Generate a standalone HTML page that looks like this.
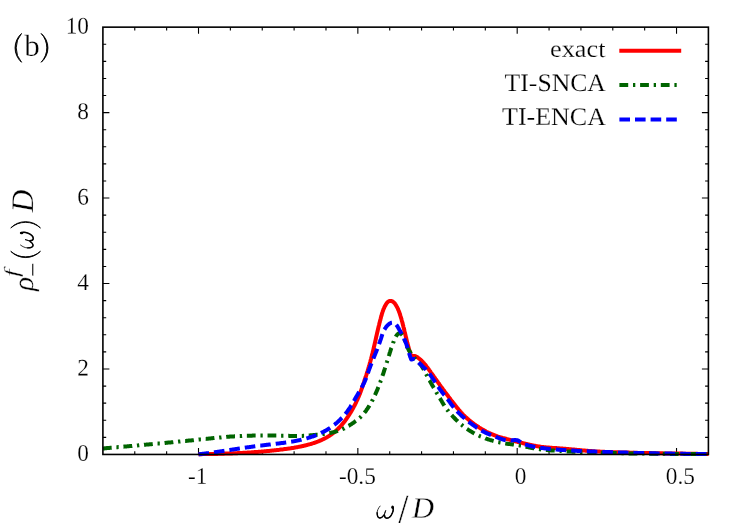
<!DOCTYPE html>
<html><head><meta charset="utf-8"><title>plot</title>
<style>
html,body{margin:0;padding:0;background:#fff;}
svg{display:block;will-change:transform;}
text{font-family:"Liberation Serif",serif;fill:#000;}
</style></head><body>
<svg width="747" height="523" viewBox="0 0 747 523">
<rect width="747" height="523" fill="#fff"/>
<!-- ticks (behind curves) -->
<path d="M134.77,454.45 v-3.3 M134.77,27.15 v3.3 M166.64,454.45 v-3.3 M166.64,27.15 v3.3 M198.51,454.45 v-6.5 M198.51,27.15 v6.5 M230.37,454.45 v-3.3 M230.37,27.15 v3.3 M262.24,454.45 v-3.3 M262.24,27.15 v3.3 M294.11,454.45 v-3.3 M294.11,27.15 v3.3 M325.98,454.45 v-3.3 M325.98,27.15 v3.3 M357.85,454.45 v-6.5 M357.85,27.15 v6.5 M389.72,454.45 v-3.3 M389.72,27.15 v3.3 M421.58,454.45 v-3.3 M421.58,27.15 v3.3 M453.45,454.45 v-3.3 M453.45,27.15 v3.3 M485.32,454.45 v-3.3 M485.32,27.15 v3.3 M517.19,454.45 v-6.5 M517.19,27.15 v6.5 M549.06,454.45 v-3.3 M549.06,27.15 v3.3 M580.93,454.45 v-3.3 M580.93,27.15 v3.3 M612.79,454.45 v-3.3 M612.79,27.15 v3.3 M644.66,454.45 v-3.3 M644.66,27.15 v3.3 M676.53,454.45 v-6.5 M676.53,27.15 v6.5 M102.9,437.36 h3.3 M708.4,437.36 h-3.3 M102.9,420.27 h3.3 M708.4,420.27 h-3.3 M102.9,403.17 h3.3 M708.4,403.17 h-3.3 M102.9,386.08 h3.3 M708.4,386.08 h-3.3 M102.9,368.99 h6.5 M708.4,368.99 h-6.5 M102.9,351.90 h3.3 M708.4,351.90 h-3.3 M102.9,334.81 h3.3 M708.4,334.81 h-3.3 M102.9,317.71 h3.3 M708.4,317.71 h-3.3 M102.9,300.62 h3.3 M708.4,300.62 h-3.3 M102.9,283.53 h6.5 M708.4,283.53 h-6.5 M102.9,266.44 h3.3 M708.4,266.44 h-3.3 M102.9,249.35 h3.3 M708.4,249.35 h-3.3 M102.9,232.25 h3.3 M708.4,232.25 h-3.3 M102.9,215.16 h3.3 M708.4,215.16 h-3.3 M102.9,198.07 h6.5 M708.4,198.07 h-6.5 M102.9,180.98 h3.3 M708.4,180.98 h-3.3 M102.9,163.89 h3.3 M708.4,163.89 h-3.3 M102.9,146.79 h3.3 M708.4,146.79 h-3.3 M102.9,129.70 h3.3 M708.4,129.70 h-3.3 M102.9,112.61 h6.5 M708.4,112.61 h-6.5 M102.9,95.52 h3.3 M708.4,95.52 h-3.3 M102.9,78.43 h3.3 M708.4,78.43 h-3.3 M102.9,61.33 h3.3 M708.4,61.33 h-3.3 M102.9,44.24 h3.3 M708.4,44.24 h-3.3" fill="none" stroke="#000" stroke-width="1.1"/>
<!-- curves -->
<g fill="none" stroke-width="4" stroke-linejoin="round">
<path d="M198.5,454.2 L199.2,454.2 L199.8,454.2 L200.5,454.2 L201.2,454.2 L201.8,454.2 L202.5,454.1 L203.2,454.1 L203.9,454.1 L204.5,454.1 L205.2,454.1 L205.9,454.1 L206.5,454.1 L207.2,454.1 L207.9,454.1 L208.5,454.0 L209.2,454.0 L209.9,454.0 L210.5,454.0 L211.2,454.0 L211.9,454.0 L212.5,454.0 L213.2,454.0 L213.9,453.9 L214.5,453.9 L215.2,453.9 L215.9,453.9 L216.5,453.9 L217.2,453.9 L217.9,453.8 L218.6,453.8 L219.2,453.8 L219.9,453.8 L220.6,453.8 L221.2,453.7 L221.9,453.7 L222.6,453.7 L223.2,453.7 L223.9,453.7 L224.6,453.6 L225.2,453.6 L225.9,453.6 L226.6,453.6 L227.2,453.6 L227.9,453.5 L228.6,453.5 L229.2,453.5 L229.9,453.5 L230.6,453.4 L231.2,453.4 L231.9,453.4 L232.6,453.4 L233.2,453.3 L233.9,453.3 L234.6,453.3 L235.2,453.2 L235.9,453.2 L236.6,453.2 L237.2,453.2 L237.9,453.1 L238.6,453.1 L239.2,453.1 L239.9,453.0 L240.6,453.0 L241.2,453.0 L241.9,452.9 L242.6,452.9 L243.2,452.8 L243.9,452.8 L244.6,452.8 L245.2,452.7 L245.9,452.7 L246.6,452.7 L247.2,452.6 L247.9,452.6 L248.6,452.5 L249.2,452.5 L249.9,452.5 L250.6,452.4 L251.2,452.4 L251.9,452.3 L252.6,452.3 L253.2,452.2 L253.9,452.2 L254.6,452.1 L255.2,452.1 L255.9,452.0 L256.6,452.0 L257.2,451.9 L257.9,451.9 L258.6,451.8 L259.2,451.8 L259.9,451.7 L260.6,451.7 L261.2,451.6 L261.9,451.6 L262.6,451.5 L263.2,451.4 L263.9,451.4 L264.5,451.3 L265.2,451.3 L265.9,451.2 L266.5,451.1 L267.2,451.1 L267.9,451.0 L268.5,450.9 L269.2,450.9 L269.9,450.8 L270.5,450.7 L271.2,450.7 L271.9,450.6 L272.5,450.5 L273.2,450.5 L273.9,450.4 L274.5,450.3 L275.2,450.3 L275.9,450.2 L276.5,450.1 L277.2,450.0 L277.8,450.0 L278.5,449.9 L279.2,449.8 L279.8,449.7 L280.5,449.6 L281.2,449.5 L281.8,449.5 L282.5,449.4 L283.2,449.3 L283.8,449.2 L284.5,449.1 L285.2,449.0 L285.8,448.9 L286.5,448.9 L287.1,448.8 L287.8,448.7 L288.5,448.6 L289.1,448.5 L289.8,448.4 L290.5,448.3 L291.1,448.2 L291.8,448.1 L292.5,448.0 L293.1,447.9 L293.8,447.8 L294.4,447.7 L295.1,447.5 L295.8,447.4 L296.4,447.3 L297.1,447.2 L297.7,447.1 L298.4,446.9 L299.0,446.8 L299.7,446.7 L300.4,446.6 L301.0,446.4 L301.7,446.3 L302.3,446.1 L303.0,446.0 L303.6,445.8 L304.3,445.7 L304.9,445.5 L305.6,445.4 L306.2,445.2 L306.9,445.1 L307.5,444.9 L308.1,444.7 L308.8,444.5 L309.4,444.4 L310.1,444.2 L310.7,444.0 L311.4,443.8 L312.0,443.6 L312.6,443.4 L313.3,443.2 L313.9,443.0 L314.5,442.8 L315.2,442.5 L315.8,442.3 L316.4,442.1 L317.0,441.8 L317.7,441.6 L318.3,441.4 L318.9,441.1 L319.5,440.9 L320.1,440.6 L320.8,440.3 L321.4,440.1 L322.0,439.8 L322.6,439.5 L323.2,439.2 L323.8,438.9 L324.4,438.6 L325.0,438.3 L325.6,438.0 L326.2,437.7 L326.7,437.4 L327.3,437.0 L327.9,436.7 L328.5,436.3 L329.0,436.0 L329.6,435.6 L330.2,435.3 L330.7,434.9 L331.3,434.5 L331.8,434.1 L332.3,433.7 L332.9,433.3 L333.4,432.9 L333.9,432.5 L334.5,432.1 L335.0,431.7 L335.5,431.2 L336.0,430.8 L336.5,430.3 L337.0,429.9 L337.5,429.4 L337.9,429.0 L338.4,428.5 L338.9,428.0 L339.3,427.5 L339.8,427.0 L340.3,426.6 L340.7,426.1 L341.2,425.6 L341.6,425.0 L342.0,424.5 L342.5,424.0 L342.9,423.5 L343.3,423.0 L343.8,422.5 L344.2,421.9 L344.6,421.4 L345.0,420.9 L345.4,420.3 L345.8,419.8 L346.2,419.3 L346.6,418.7 L346.9,418.2 L347.3,417.6 L347.7,417.1 L348.1,416.5 L348.4,416.0 L348.8,415.4 L349.2,414.8 L349.5,414.3 L349.9,413.7 L350.2,413.1 L350.6,412.6 L350.9,412.0 L351.2,411.4 L351.6,410.9 L351.9,410.3 L352.2,409.7 L352.6,409.1 L352.9,408.5 L353.2,407.9 L353.5,407.4 L353.8,406.8 L354.1,406.2 L354.5,405.6 L354.8,405.0 L355.1,404.4 L355.4,403.8 L355.7,403.2 L356.0,402.6 L356.2,402.0 L356.5,401.4 L356.8,400.8 L357.1,400.2 L357.4,399.6 L357.7,399.0 L357.9,398.3 L358.2,397.7 L358.5,397.1 L358.7,396.5 L359.0,395.9 L359.2,395.3 L359.5,394.6 L359.8,394.0 L360.0,393.4 L360.2,392.8 L360.5,392.2 L360.7,391.5 L360.9,390.9 L361.2,390.3 L361.4,389.6 L361.6,389.0 L361.8,388.4 L362.1,387.8 L362.3,387.1 L362.5,386.5 L362.7,385.9 L362.9,385.2 L363.1,384.6 L363.4,384.0 L363.6,383.3 L363.8,382.7 L364.0,382.1 L364.2,381.4 L364.4,380.8 L364.6,380.2 L364.8,379.5 L365.0,378.9 L365.2,378.3 L365.5,377.6 L365.7,377.0 L365.9,376.4 L366.1,375.7 L366.3,375.1 L366.5,374.4 L366.7,373.8 L366.9,373.2 L367.1,372.5 L367.3,371.9 L367.5,371.3 L367.7,370.6 L367.9,370.0 L368.1,369.3 L368.3,368.7 L368.5,368.1 L368.6,367.4 L368.8,366.8 L369.0,366.1 L369.2,365.5 L369.4,364.9 L369.6,364.2 L369.8,363.6 L369.9,362.9 L370.1,362.3 L370.3,361.6 L370.5,361.0 L370.6,360.4 L370.8,359.7 L371.0,359.1 L371.2,358.4 L371.3,357.8 L371.5,357.1 L371.7,356.5 L371.8,355.8 L372.0,355.2 L372.2,354.5 L372.3,353.9 L372.5,353.2 L372.6,352.6 L372.8,351.9 L373.0,351.3 L373.1,350.6 L373.3,350.0 L373.4,349.3 L373.6,348.7 L373.7,348.0 L373.9,347.4 L374.0,346.7 L374.2,346.1 L374.3,345.4 L374.5,344.8 L374.6,344.1 L374.8,343.5 L374.9,342.8 L375.1,342.2 L375.2,341.5 L375.4,340.9 L375.5,340.2 L375.7,339.6 L375.8,338.9 L375.9,338.3 L376.1,337.6 L376.2,336.9 L376.4,336.3 L376.5,335.6 L376.7,335.0 L376.8,334.3 L377.0,333.7 L377.1,333.0 L377.3,332.4 L377.4,331.7 L377.6,331.1 L377.7,330.4 L377.9,329.8 L378.0,329.1 L378.2,328.5 L378.3,327.8 L378.5,327.2 L378.6,326.5 L378.8,325.9 L379.0,325.2 L379.1,324.6 L379.3,323.9 L379.4,323.3 L379.6,322.6 L379.8,322.0 L379.9,321.3 L380.1,320.7 L380.3,320.1 L380.4,319.4 L380.6,318.8 L380.8,318.1 L380.9,317.5 L381.1,316.8 L381.3,316.2 L381.5,315.5 L381.7,314.9 L381.8,314.3 L382.0,313.6 L382.2,313.0 L382.4,312.4 L382.6,311.7 L382.8,311.1 L383.1,310.5 L383.3,309.8 L383.5,309.2 L383.8,308.6 L384.1,308.0 L384.3,307.4 L384.6,306.8 L384.9,306.2 L385.3,305.6 L385.6,305.0 L386.0,304.4 L386.3,303.8 L386.7,303.2 L387.2,302.7 L387.6,302.2 L388.1,301.7 L388.6,301.4 L389.1,301.1 L389.7,300.9 L390.4,300.9 L391.0,300.9 L391.7,301.1 L392.4,301.4 L393.0,301.7 L393.5,302.2 L394.0,302.6 L394.5,303.1 L394.9,303.6 L395.3,304.2 L395.7,304.7 L396.0,305.3 L396.4,305.9 L396.7,306.5 L397.0,307.0 L397.3,307.6 L397.6,308.2 L397.9,308.8 L398.1,309.4 L398.4,310.1 L398.7,310.7 L398.9,311.3 L399.1,311.9 L399.4,312.6 L399.6,313.2 L399.8,313.8 L400.0,314.5 L400.2,315.1 L400.4,315.7 L400.6,316.4 L400.8,317.0 L401.0,317.7 L401.2,318.3 L401.4,318.9 L401.6,319.6 L401.7,320.2 L401.9,320.9 L402.1,321.5 L402.3,322.2 L402.4,322.8 L402.6,323.5 L402.8,324.1 L402.9,324.8 L403.1,325.4 L403.3,326.1 L403.4,326.7 L403.6,327.4 L403.8,328.0 L403.9,328.6 L404.1,329.3 L404.2,329.9 L404.4,330.6 L404.5,331.2 L404.7,331.9 L404.9,332.5 L405.0,333.2 L405.2,333.8 L405.3,334.5 L405.5,335.1 L405.6,335.8 L405.8,336.4 L405.9,337.1 L406.1,337.7 L406.3,338.4 L406.4,339.0 L406.6,339.7 L406.7,340.3 L406.9,341.0 L407.0,341.6 L407.2,342.3 L407.4,342.9 L407.5,343.6 L407.7,344.2 L407.9,344.9 L408.0,345.5 L408.2,346.2 L408.4,346.8 L408.6,347.4 L408.7,348.1 L408.9,348.7 L409.1,349.4 L409.3,350.0 L409.5,350.7 L409.7,351.3 L409.9,351.9 L410.1,352.6 L410.3,353.2 L410.5,353.9 L410.7,354.5 L410.9,355.1 L411.1,355.8 L411.3,356.4 L412.0,356.2 L412.6,356.0 L413.3,355.9 L413.9,355.9 L414.6,356.0 L415.2,356.2 L415.8,356.4 L416.4,356.7 L417.0,357.1 L417.6,357.4 L418.1,357.8 L418.7,358.2 L419.2,358.6 L419.7,359.1 L420.3,359.5 L420.8,359.9 L421.2,360.4 L421.7,360.9 L422.2,361.3 L422.7,361.8 L423.1,362.3 L423.6,362.8 L424.0,363.3 L424.4,363.8 L424.9,364.3 L425.3,364.8 L425.7,365.3 L426.1,365.8 L426.5,366.4 L426.9,366.9 L427.3,367.4 L427.7,368.0 L428.1,368.5 L428.5,369.1 L428.9,369.6 L429.3,370.2 L429.7,370.7 L430.1,371.2 L430.5,371.8 L430.8,372.3 L431.2,372.9 L431.6,373.4 L432.0,374.0 L432.4,374.5 L432.8,375.1 L433.2,375.6 L433.6,376.2 L433.9,376.7 L434.3,377.2 L434.7,377.8 L435.1,378.3 L435.5,378.9 L435.9,379.4 L436.3,380.0 L436.7,380.5 L437.0,381.1 L437.4,381.6 L437.8,382.1 L438.2,382.7 L438.6,383.2 L439.0,383.8 L439.4,384.3 L439.8,384.9 L440.2,385.4 L440.6,385.9 L440.9,386.5 L441.3,387.0 L441.7,387.6 L442.1,388.1 L442.5,388.6 L442.9,389.2 L443.3,389.7 L443.7,390.3 L444.1,390.8 L444.5,391.3 L444.9,391.9 L445.3,392.4 L445.7,392.9 L446.1,393.5 L446.5,394.0 L446.9,394.5 L447.3,395.1 L447.7,395.6 L448.1,396.1 L448.5,396.7 L448.9,397.2 L449.3,397.7 L449.7,398.3 L450.1,398.8 L450.5,399.3 L450.9,399.9 L451.3,400.4 L451.7,400.9 L452.1,401.5 L452.6,402.0 L453.0,402.5 L453.4,403.0 L453.8,403.6 L454.2,404.1 L454.6,404.6 L455.0,405.1 L455.4,405.7 L455.9,406.2 L456.3,406.7 L456.7,407.2 L457.1,407.8 L457.6,408.3 L458.0,408.8 L458.4,409.3 L458.8,409.8 L459.3,410.3 L459.7,410.8 L460.1,411.3 L460.6,411.8 L461.0,412.3 L461.5,412.8 L461.9,413.3 L462.4,413.8 L462.8,414.3 L463.3,414.8 L463.8,415.3 L464.2,415.7 L464.7,416.2 L465.2,416.7 L465.7,417.1 L466.2,417.6 L466.7,418.0 L467.2,418.5 L467.7,418.9 L468.2,419.4 L468.7,419.8 L469.2,420.2 L469.7,420.6 L470.2,421.1 L470.7,421.5 L471.3,421.9 L471.8,422.3 L472.3,422.7 L472.9,423.1 L473.4,423.5 L473.9,423.9 L474.5,424.3 L475.0,424.7 L475.6,425.1 L476.1,425.5 L476.7,425.8 L477.2,426.2 L477.8,426.6 L478.4,426.9 L478.9,427.3 L479.5,427.7 L480.1,428.0 L480.6,428.4 L481.2,428.7 L481.8,429.1 L482.3,429.4 L482.9,429.7 L483.5,430.1 L484.1,430.4 L484.7,430.7 L485.3,431.0 L485.9,431.4 L486.4,431.7 L487.0,432.0 L487.6,432.3 L488.2,432.6 L488.8,432.9 L489.4,433.1 L490.0,433.4 L490.7,433.7 L491.3,434.0 L491.9,434.2 L492.5,434.5 L493.1,434.7 L493.7,435.0 L494.4,435.2 L495.0,435.5 L495.6,435.7 L496.2,435.9 L496.9,436.1 L497.5,436.4 L498.1,436.6 L498.8,436.8 L499.4,437.0 L500.0,437.1 L500.7,437.3 L501.3,437.5 L502.0,437.7 L502.6,437.9 L503.3,438.1 L503.9,438.2 L504.6,438.4 L505.2,438.6 L505.9,438.7 L506.5,438.9 L507.1,439.1 L507.8,439.3 L508.4,439.4 L509.1,439.6 L509.7,439.8 L510.4,439.9 L511.0,440.1 L511.7,440.3 L512.3,440.4 L513.0,440.6 L513.6,440.8 L514.3,440.9 L514.9,441.1 L515.6,441.3 L516.2,441.5 L516.9,441.6 L517.5,441.8 L518.1,442.0 L518.8,442.1 L519.4,442.3 L520.1,442.5 L520.7,442.6 L521.4,442.8 L522.0,442.9 L522.7,443.1 L523.3,443.3 L524.0,443.4 L524.6,443.6 L525.3,443.7 L525.9,443.9 L526.6,444.0 L527.2,444.2 L527.9,444.3 L528.5,444.5 L529.2,444.6 L529.8,444.8 L530.5,444.9 L531.1,445.1 L531.8,445.2 L532.4,445.3 L533.1,445.5 L533.8,445.6 L534.4,445.7 L535.1,445.8 L535.7,445.9 L536.4,446.1 L537.0,446.2 L537.7,446.3 L538.4,446.4 L539.0,446.5 L539.7,446.6 L540.4,446.7 L541.0,446.8 L541.7,446.9 L542.3,447.0 L543.0,447.0 L543.7,447.1 L544.3,447.2 L545.0,447.3 L545.7,447.3 L546.3,447.4 L547.0,447.5 L547.7,447.5 L548.3,447.6 L549.0,447.6 L549.7,447.7 L550.3,447.7 L551.0,447.8 L551.7,447.8 L552.3,447.9 L553.0,447.9 L553.7,448.0 L554.3,448.0 L555.0,448.1 L555.7,448.1 L556.3,448.1 L557.0,448.2 L557.7,448.2 L558.3,448.3 L559.0,448.3 L559.7,448.4 L560.3,448.4 L561.0,448.5 L561.7,448.5 L562.3,448.6 L563.0,448.6 L563.6,448.7 L564.3,448.7 L565.0,448.8 L565.6,448.8 L566.3,448.9 L567.0,448.9 L567.6,449.0 L568.3,449.1 L569.0,449.1 L569.6,449.2 L570.3,449.3 L571.0,449.3 L571.6,449.4 L572.3,449.4 L573.0,449.5 L573.6,449.6 L574.3,449.6 L575.0,449.7 L575.6,449.8 L576.3,449.8 L577.0,449.9 L577.6,450.0 L578.3,450.0 L579.0,450.1 L579.6,450.1 L580.3,450.2 L580.9,450.3 L581.6,450.3 L582.3,450.4 L582.9,450.5 L583.6,450.5 L584.3,450.6 L584.9,450.6 L585.6,450.7 L586.3,450.7 L586.9,450.8 L587.6,450.8 L588.3,450.9 L588.9,451.0 L589.6,451.0 L590.3,451.0 L590.9,451.1 L591.6,451.1 L592.3,451.2 L592.9,451.2 L593.6,451.3 L594.3,451.3 L594.9,451.4 L595.6,451.4 L596.3,451.4 L596.9,451.5 L597.6,451.5 L598.3,451.6 L598.9,451.6 L599.6,451.6 L600.3,451.7 L600.9,451.7 L601.6,451.7 L602.3,451.8 L602.9,451.8 L603.6,451.8 L604.3,451.8 L605.0,451.9 L605.6,451.9 L606.3,451.9 L607.0,452.0 L607.6,452.0 L608.3,452.0 L609.0,452.0 L609.6,452.1 L610.3,452.1 L611.0,452.1 L611.6,452.1 L612.3,452.2 L613.0,452.2 L613.6,452.2 L614.3,452.2 L615.0,452.2 L615.6,452.3 L616.3,452.3 L617.0,452.3 L617.6,452.3 L618.3,452.4 L619.0,452.4 L619.6,452.4 L620.3,452.4 L621.0,452.4 L621.6,452.4 L622.3,452.5 L623.0,452.5 L623.7,452.5 L624.3,452.5 L625.0,452.5 L625.7,452.6 L626.3,452.6 L627.0,452.6 L627.7,452.6 L628.3,452.6 L629.0,452.6 L629.7,452.7 L630.3,452.7 L631.0,452.7 L631.7,452.7 L632.3,452.7 L633.0,452.7 L633.7,452.8 L634.3,452.8 L635.0,452.8 L635.7,452.8 L636.3,452.8 L637.0,452.8 L637.7,452.9 L638.3,452.9 L639.0,452.9 L639.7,452.9 L640.4,452.9 L641.0,452.9 L641.7,452.9 L642.4,453.0 L643.0,453.0 L643.7,453.0 L644.4,453.0 L645.0,453.0 L645.7,453.0 L646.4,453.0 L647.0,453.1 L647.7,453.1 L648.4,453.1 L649.0,453.1 L649.7,453.1 L650.4,453.1 L651.0,453.1 L651.7,453.2 L652.4,453.2 L653.0,453.2 L653.7,453.2 L654.4,453.2 L655.1,453.2 L655.7,453.2 L656.4,453.2 L657.1,453.2 L657.7,453.3 L658.4,453.3 L659.1,453.3 L659.7,453.3 L660.4,453.3 L661.1,453.3 L661.7,453.3 L662.4,453.3 L663.1,453.4 L663.7,453.4 L664.4,453.4 L665.1,453.4 L665.7,453.4 L666.4,453.4 L667.1,453.4 L667.7,453.4 L668.4,453.4 L669.1,453.4 L669.7,453.5 L670.4,453.5 L671.1,453.5 L671.8,453.5 L672.4,453.5 L673.1,453.5 L673.8,453.5 L674.4,453.5 L675.1,453.5 L675.8,453.5 L676.4,453.6 L677.1,453.6 L677.8,453.6 L678.4,453.6 L679.1,453.6 L679.8,453.6 L680.4,453.6 L681.1,453.6 L681.8,453.6 L682.4,453.6 L683.1,453.7 L683.8,453.7 L684.4,453.7 L685.1,453.7 L685.8,453.7 L686.4,453.7 L687.1,453.7 L687.8,453.7 L688.5,453.7 L689.1,453.7 L689.8,453.7 L690.5,453.8 L691.1,453.8 L691.8,453.8 L692.5,453.8 L693.1,453.8 L693.8,453.8 L694.5,453.8 L695.1,453.8 L695.8,453.8 L696.5,453.8 L697.1,453.8 L697.8,453.9 L698.5,453.9 L699.1,453.9 L699.8,453.9 L700.5,453.9 L701.1,453.9 L701.8,453.9 L702.5,453.9 L703.2,453.9 L703.8,453.9 L704.5,453.9 L705.2,454.0 L705.8,454.0 L706.5,454.0 L707.2,454.0 L707.8,454.0 L708.5,454.0" stroke="#ff0000"/>
<path d="M102.9,448.5 L103.6,448.4 L104.2,448.4 L104.9,448.3 L105.6,448.3 L106.2,448.2 L106.9,448.1 L107.6,448.1 L108.2,448.0 L108.9,448.0 L109.6,447.9 L110.2,447.8 L110.9,447.8 L111.6,447.7 L112.2,447.7 L112.9,447.6 L113.5,447.5 L114.2,447.5 L114.9,447.4 L115.5,447.4 L116.2,447.3 L116.9,447.3 L117.5,447.2 L118.2,447.1 L118.9,447.1 L119.5,447.0 L120.2,447.0 L120.9,446.9 L121.5,446.8 L122.2,446.8 L122.9,446.7 L123.5,446.7 L124.2,446.6 L124.9,446.5 L125.5,446.5 L126.2,446.4 L126.9,446.4 L127.5,446.3 L128.2,446.2 L128.9,446.2 L129.5,446.1 L130.2,446.1 L130.8,446.0 L131.5,446.0 L132.2,445.9 L132.8,445.8 L133.5,445.8 L134.2,445.7 L134.8,445.7 L135.5,445.6 L136.2,445.5 L136.8,445.5 L137.5,445.4 L138.2,445.4 L138.8,445.3 L139.5,445.2 L140.2,445.2 L140.8,445.1 L141.5,445.1 L142.2,445.0 L142.8,444.9 L143.5,444.9 L144.1,444.8 L144.8,444.8 L145.5,444.7 L146.1,444.6 L146.8,444.6 L147.5,444.5 L148.1,444.5 L148.8,444.4 L149.5,444.3 L150.1,444.3 L150.8,444.2 L151.5,444.2 L152.1,444.1 L152.8,444.0 L153.5,444.0 L154.1,443.9 L154.8,443.9 L155.4,443.8 L156.1,443.7 L156.8,443.7 L157.4,443.6 L158.1,443.6 L158.8,443.5 L159.4,443.4 L160.1,443.4 L160.8,443.3 L161.4,443.3 L162.1,443.2 L162.8,443.1 L163.4,443.1 L164.1,443.0 L164.8,442.9 L165.4,442.9 L166.1,442.8 L166.7,442.8 L167.4,442.7 L168.1,442.6 L168.7,442.6 L169.4,442.5 L170.1,442.5 L170.7,442.4 L171.4,442.3 L172.1,442.3 L172.7,442.2 L173.4,442.1 L174.1,442.1 L174.7,442.0 L175.4,441.9 L176.1,441.9 L176.7,441.8 L177.4,441.8 L178.0,441.7 L178.7,441.6 L179.4,441.6 L180.0,441.5 L180.7,441.4 L181.4,441.4 L182.0,441.3 L182.7,441.2 L183.4,441.2 L184.0,441.1 L184.7,441.0 L185.4,441.0 L186.0,440.9 L186.7,440.8 L187.4,440.8 L188.0,440.7 L188.7,440.6 L189.3,440.6 L190.0,440.5 L190.7,440.4 L191.3,440.4 L192.0,440.3 L192.7,440.2 L193.3,440.2 L194.0,440.1 L194.7,440.0 L195.3,440.0 L196.0,439.9 L196.7,439.8 L197.3,439.8 L198.0,439.7 L198.7,439.6 L199.3,439.6 L200.0,439.5 L200.6,439.4 L201.3,439.4 L202.0,439.3 L202.6,439.2 L203.3,439.2 L204.0,439.1 L204.6,439.0 L205.3,438.9 L206.0,438.9 L206.6,438.8 L207.3,438.7 L208.0,438.7 L208.6,438.6 L209.3,438.5 L210.0,438.5 L210.6,438.4 L211.3,438.3 L211.9,438.3 L212.6,438.2 L213.3,438.1 L213.9,438.1 L214.6,438.0 L215.3,437.9 L215.9,437.9 L216.6,437.8 L217.3,437.7 L217.9,437.7 L218.6,437.6 L219.3,437.5 L219.9,437.5 L220.6,437.4 L221.3,437.4 L221.9,437.3 L222.6,437.2 L223.3,437.2 L223.9,437.1 L224.6,437.1 L225.3,437.0 L225.9,437.0 L226.6,436.9 L227.2,436.8 L227.9,436.8 L228.6,436.7 L229.2,436.7 L229.9,436.6 L230.6,436.6 L231.2,436.6 L231.9,436.5 L232.6,436.5 L233.2,436.4 L233.9,436.4 L234.6,436.3 L235.2,436.3 L235.9,436.3 L236.6,436.2 L237.2,436.2 L237.9,436.2 L238.6,436.1 L239.2,436.1 L239.9,436.1 L240.6,436.0 L241.2,436.0 L241.9,436.0 L242.6,435.9 L243.2,435.9 L243.9,435.9 L244.6,435.9 L245.2,435.8 L245.9,435.8 L246.6,435.8 L247.2,435.8 L247.9,435.8 L248.6,435.7 L249.2,435.7 L249.9,435.7 L250.6,435.7 L251.2,435.7 L251.9,435.7 L252.6,435.6 L253.2,435.6 L253.9,435.6 L254.6,435.6 L255.3,435.6 L255.9,435.6 L256.6,435.6 L257.3,435.6 L257.9,435.6 L258.6,435.6 L259.3,435.5 L259.9,435.5 L260.6,435.5 L261.3,435.5 L261.9,435.5 L262.6,435.5 L263.3,435.5 L263.9,435.5 L264.6,435.5 L265.3,435.5 L265.9,435.5 L266.6,435.5 L267.3,435.5 L267.9,435.5 L268.6,435.5 L269.3,435.5 L269.9,435.5 L270.6,435.5 L271.3,435.5 L271.9,435.6 L272.6,435.6 L273.3,435.6 L274.0,435.6 L274.6,435.6 L275.3,435.6 L276.0,435.6 L276.6,435.6 L277.3,435.6 L278.0,435.6 L278.6,435.6 L279.3,435.7 L280.0,435.7 L280.6,435.7 L281.3,435.7 L282.0,435.7 L282.6,435.7 L283.3,435.7 L284.0,435.7 L284.6,435.8 L285.3,435.8 L286.0,435.8 L286.7,435.8 L287.3,435.8 L288.0,435.8 L288.7,435.8 L289.3,435.9 L290.0,435.9 L290.7,435.9 L291.3,435.9 L292.0,435.9 L292.7,435.9 L293.3,435.9 L294.0,435.9 L294.7,436.0 L295.3,436.0 L296.0,436.0 L296.7,436.0 L297.3,436.0 L298.0,436.0 L298.7,436.0 L299.3,435.9 L300.0,435.9 L300.7,435.9 L301.3,435.9 L302.0,435.9 L302.7,435.9 L303.3,435.8 L304.0,435.8 L304.7,435.8 L305.3,435.7 L306.0,435.7 L306.7,435.6 L307.3,435.6 L308.0,435.6 L308.6,435.5 L309.3,435.4 L310.0,435.4 L310.6,435.3 L311.3,435.3 L312.0,435.2 L312.6,435.2 L313.3,435.1 L314.0,435.0 L314.6,435.0 L315.3,434.9 L316.0,434.8 L316.6,434.8 L317.3,434.7 L318.0,434.7 L318.6,434.6 L319.3,434.5 L320.0,434.4 L320.6,434.4 L321.3,434.3 L322.0,434.2 L322.6,434.1 L323.3,434.0 L324.0,434.0 L324.6,433.9 L325.3,433.8 L326.0,433.7 L326.6,433.6 L327.3,433.5 L328.0,433.3 L328.6,433.2 L329.3,433.1 L329.9,433.0 L330.6,432.9 L331.2,432.7 L331.9,432.6 L332.5,432.4 L333.2,432.3 L333.8,432.1 L334.5,431.9 L335.1,431.8 L335.7,431.6 L336.4,431.4 L337.0,431.2 L337.7,431.0 L338.3,430.8 L338.9,430.6 L339.5,430.4 L340.2,430.1 L340.8,429.9 L341.4,429.6 L342.0,429.4 L342.6,429.1 L343.2,428.8 L343.8,428.5 L344.4,428.3 L345.0,427.9 L345.6,427.6 L346.2,427.3 L346.8,427.0 L347.4,426.6 L347.9,426.3 L348.5,425.9 L349.1,425.6 L349.7,425.2 L350.2,424.8 L350.8,424.5 L351.4,424.1 L351.9,423.7 L352.5,423.3 L353.0,423.0 L353.6,422.6 L354.1,422.2 L354.7,421.8 L355.2,421.4 L355.7,421.0 L356.3,420.6 L356.8,420.2 L357.3,419.8 L357.8,419.4 L358.4,419.0 L358.9,418.6 L359.4,418.1 L359.9,417.7 L360.3,417.2 L360.8,416.8 L361.3,416.3 L361.8,415.8 L362.2,415.3 L362.7,414.9 L363.1,414.4 L363.6,413.9 L364.0,413.3 L364.4,412.8 L364.8,412.3 L365.2,411.8 L365.7,411.2 L366.1,410.7 L366.4,410.1 L366.8,409.6 L367.2,409.0 L367.6,408.5 L368.0,407.9 L368.3,407.3 L368.7,406.8 L369.1,406.2 L369.4,405.6 L369.7,405.1 L370.1,404.5 L370.4,403.9 L370.8,403.3 L371.1,402.8 L371.4,402.2 L371.7,401.6 L372.0,401.0 L372.4,400.4 L372.7,399.8 L373.0,399.2 L373.3,398.6 L373.6,398.0 L373.9,397.4 L374.1,396.8 L374.4,396.2 L374.7,395.6 L375.0,395.0 L375.3,394.4 L375.5,393.8 L375.8,393.2 L376.1,392.6 L376.3,392.0 L376.6,391.4 L376.9,390.8 L377.1,390.1 L377.4,389.5 L377.6,388.9 L377.9,388.3 L378.1,387.7 L378.4,387.0 L378.6,386.4 L378.9,385.8 L379.1,385.2 L379.3,384.6 L379.6,383.9 L379.8,383.3 L380.1,382.7 L380.3,382.1 L380.5,381.4 L380.7,380.8 L381.0,380.2 L381.2,379.5 L381.4,378.9 L381.6,378.3 L381.9,377.7 L382.1,377.0 L382.3,376.4 L382.5,375.8 L382.7,375.1 L382.9,374.5 L383.2,373.9 L383.4,373.2 L383.6,372.6 L383.8,372.0 L384.0,371.3 L384.2,370.7 L384.4,370.0 L384.6,369.4 L384.8,368.8 L385.0,368.1 L385.2,367.5 L385.4,366.9 L385.6,366.2 L385.8,365.6 L386.0,364.9 L386.2,364.3 L386.4,363.7 L386.6,363.0 L386.8,362.4 L387.0,361.8 L387.2,361.1 L387.4,360.5 L387.6,359.8 L387.8,359.2 L388.0,358.6 L388.2,357.9 L388.4,357.3 L388.6,356.7 L388.8,356.0 L389.0,355.4 L389.2,354.7 L389.4,354.1 L389.6,353.5 L389.8,352.8 L390.0,352.2 L390.2,351.6 L390.4,350.9 L390.6,350.3 L390.8,349.7 L391.0,349.0 L391.2,348.4 L391.5,347.8 L391.7,347.1 L391.9,346.5 L392.1,345.9 L392.3,345.2 L392.5,344.6 L392.8,344.0 L393.0,343.4 L393.2,342.7 L393.4,342.1 L393.7,341.5 L393.9,340.9 L394.1,340.2 L394.4,339.6 L394.6,339.0 L394.9,338.4 L395.2,337.8 L395.5,337.2 L395.8,336.6 L396.2,336.0 L396.6,335.4 L397.0,334.8 L397.5,334.3 L398.0,333.8 L398.6,333.5 L399.1,333.3 L399.7,333.3 L400.3,333.5 L400.9,333.8 L401.5,334.2 L402.0,334.7 L402.5,335.3 L402.9,335.8 L403.2,336.4 L403.5,337.0 L403.8,337.6 L404.1,338.2 L404.3,338.9 L404.5,339.5 L404.7,340.2 L404.9,340.8 L405.1,341.5 L405.4,342.1 L405.6,342.7 L405.8,343.4 L406.0,344.0 L406.3,344.6 L406.5,345.3 L406.8,345.9 L407.0,346.5 L407.3,347.1 L407.6,347.7 L407.9,348.3 L408.2,348.9 L408.5,349.5 L408.8,350.1 L409.1,350.6 L409.5,351.2 L409.8,351.8 L410.2,352.3 L410.6,352.9 L410.9,353.4 L411.3,354.0 L411.7,354.5 L412.1,355.1 L412.5,355.6 L412.9,356.1 L413.4,356.6 L413.8,357.1 L414.2,357.6 L414.7,358.2 L415.1,358.6 L415.6,359.1 L416.1,359.6 L416.5,360.1 L417.0,360.6 L417.5,361.1 L417.9,361.6 L418.4,362.1 L418.8,362.5 L419.3,363.0 L419.7,363.5 L420.1,364.1 L420.5,364.6 L420.9,365.1 L421.3,365.6 L421.7,366.2 L422.1,366.7 L422.4,367.3 L422.8,367.9 L423.1,368.4 L423.4,369.0 L423.8,369.6 L424.1,370.2 L424.4,370.8 L424.7,371.4 L425.0,372.0 L425.3,372.6 L425.6,373.2 L426.0,373.8 L426.3,374.4 L426.6,375.0 L426.9,375.5 L427.2,376.1 L427.5,376.7 L427.8,377.3 L428.2,377.9 L428.5,378.5 L428.8,379.1 L429.1,379.7 L429.4,380.3 L429.8,380.8 L430.1,381.4 L430.4,382.0 L430.8,382.6 L431.1,383.2 L431.4,383.7 L431.7,384.3 L432.1,384.9 L432.4,385.5 L432.7,386.1 L433.1,386.6 L433.4,387.2 L433.7,387.8 L434.1,388.4 L434.4,388.9 L434.7,389.5 L435.1,390.1 L435.4,390.7 L435.8,391.2 L436.1,391.8 L436.4,392.4 L436.8,393.0 L437.1,393.5 L437.5,394.1 L437.8,394.7 L438.1,395.3 L438.5,395.8 L438.8,396.4 L439.2,397.0 L439.5,397.6 L439.8,398.1 L440.2,398.7 L440.5,399.3 L440.9,399.9 L441.2,400.4 L441.6,401.0 L441.9,401.6 L442.2,402.2 L442.6,402.7 L442.9,403.3 L443.3,403.9 L443.6,404.5 L444.0,405.0 L444.3,405.6 L444.7,406.2 L445.1,406.7 L445.4,407.3 L445.8,407.8 L446.2,408.4 L446.6,408.9 L446.9,409.5 L447.3,410.0 L447.8,410.5 L448.2,411.0 L448.6,411.6 L449.0,412.1 L449.4,412.6 L449.9,413.1 L450.3,413.6 L450.7,414.1 L451.2,414.6 L451.6,415.1 L452.1,415.6 L452.5,416.1 L453.0,416.6 L453.5,417.1 L453.9,417.5 L454.4,418.0 L454.8,418.5 L455.3,419.0 L455.8,419.5 L456.3,419.9 L456.7,420.4 L457.2,420.9 L457.7,421.3 L458.2,421.8 L458.7,422.3 L459.2,422.7 L459.7,423.2 L460.2,423.6 L460.7,424.0 L461.2,424.5 L461.7,424.9 L462.2,425.3 L462.7,425.8 L463.2,426.2 L463.8,426.6 L464.3,427.0 L464.8,427.4 L465.4,427.8 L465.9,428.2 L466.5,428.6 L467.0,428.9 L467.6,429.3 L468.1,429.7 L468.7,430.1 L469.2,430.4 L469.8,430.8 L470.4,431.1 L470.9,431.5 L471.5,431.8 L472.1,432.1 L472.7,432.5 L473.2,432.8 L473.8,433.1 L474.4,433.5 L475.0,433.8 L475.6,434.1 L476.2,434.4 L476.8,434.7 L477.4,435.0 L478.0,435.3 L478.6,435.5 L479.2,435.8 L479.8,436.1 L480.4,436.4 L481.0,436.6 L481.7,436.9 L482.3,437.2 L482.9,437.4 L483.5,437.7 L484.1,437.9 L484.8,438.1 L485.4,438.4 L486.0,438.6 L486.6,438.8 L487.3,439.0 L487.9,439.3 L488.5,439.5 L489.2,439.7 L489.8,439.9 L490.5,440.1 L491.1,440.3 L491.7,440.4 L492.4,440.6 L493.0,440.8 L493.7,441.0 L494.3,441.2 L495.0,441.3 L495.6,441.5 L496.3,441.6 L496.9,441.8 L497.6,441.9 L498.2,442.1 L498.9,442.2 L499.5,442.4 L500.2,442.5 L500.8,442.6 L501.5,442.8 L502.1,442.9 L502.8,443.0 L503.4,443.1 L504.1,443.2 L504.8,443.4 L505.4,443.5 L506.1,443.6 L506.7,443.7 L507.4,443.8 L508.1,443.9 L508.7,444.0 L509.4,444.0 L510.1,444.1 L510.7,444.2 L511.4,444.3 L512.0,444.4 L512.7,444.5 L513.4,444.5 L514.0,444.6 L514.7,444.7 L515.4,444.8 L516.0,444.9 L516.7,445.0 L517.3,445.1 L518.0,445.2 L518.7,445.3 L519.3,445.4 L520.0,445.5 L520.6,445.6 L521.3,445.7 L521.9,445.9 L522.6,446.0 L523.3,446.1 L523.9,446.3 L524.6,446.4 L525.2,446.5 L525.9,446.7 L526.5,446.8 L527.2,447.0 L527.8,447.1 L528.5,447.2 L529.1,447.4 L529.8,447.5 L530.4,447.7 L531.1,447.8 L531.8,447.9 L532.4,448.1 L533.1,448.2 L533.7,448.3 L534.4,448.4 L535.0,448.5 L535.7,448.6 L536.4,448.8 L537.0,448.9 L537.7,449.0 L538.3,449.1 L539.0,449.1 L539.7,449.2 L540.3,449.3 L541.0,449.4 L541.6,449.5 L542.3,449.6 L543.0,449.6 L543.6,449.7 L544.3,449.8 L545.0,449.9 L545.6,449.9 L546.3,450.0 L547.0,450.0 L547.6,450.1 L548.3,450.2 L549.0,450.2 L549.6,450.3 L550.3,450.3 L551.0,450.4 L551.6,450.4 L552.3,450.5 L553.0,450.5 L553.6,450.6 L554.3,450.6 L555.0,450.7 L555.6,450.7 L556.3,450.8 L557.0,450.8 L557.6,450.9 L558.3,450.9 L559.0,451.0 L559.6,451.0 L560.3,451.0 L561.0,451.1 L561.6,451.1 L562.3,451.2 L563.0,451.2 L563.6,451.2 L564.3,451.3 L565.0,451.3 L565.6,451.3 L566.3,451.4 L567.0,451.4 L567.6,451.4 L568.3,451.5 L569.0,451.5 L569.6,451.5 L570.3,451.6 L571.0,451.6 L571.6,451.6 L572.3,451.7 L573.0,451.7 L573.6,451.7 L574.3,451.8 L575.0,451.8 L575.6,451.8 L576.3,451.8 L577.0,451.9 L577.6,451.9 L578.3,451.9 L579.0,452.0 L579.6,452.0 L580.3,452.0 L581.0,452.0 L581.6,452.1 L582.3,452.1 L583.0,452.1 L583.6,452.1 L584.3,452.2 L585.0,452.2 L585.6,452.2 L586.3,452.2 L587.0,452.3 L587.6,452.3 L588.3,452.3 L589.0,452.3 L589.6,452.4 L590.3,452.4 L591.0,452.4 L591.6,452.4 L592.3,452.4 L593.0,452.5 L593.6,452.5 L594.3,452.5 L595.0,452.5 L595.6,452.6 L596.3,452.6 L597.0,452.6 L597.6,452.6 L598.3,452.6 L599.0,452.7 L599.7,452.7 L600.3,452.7 L601.0,452.7 L601.7,452.7 L602.3,452.8 L603.0,452.8 L603.7,452.8 L604.3,452.8 L605.0,452.8 L605.7,452.9 L606.3,452.9 L607.0,452.9 L607.7,452.9 L608.3,452.9 L609.0,452.9 L609.7,453.0 L610.3,453.0 L611.0,453.0 L611.7,453.0 L612.3,453.0 L613.0,453.0 L613.7,453.1 L614.3,453.1 L615.0,453.1 L615.7,453.1 L616.3,453.1 L617.0,453.1 L617.7,453.1 L618.3,453.2 L619.0,453.2 L619.7,453.2 L620.3,453.2 L621.0,453.2 L621.7,453.2 L622.4,453.2 L623.0,453.3 L623.7,453.3 L624.4,453.3 L625.0,453.3 L625.7,453.3 L626.4,453.3 L627.0,453.3 L627.7,453.4 L628.4,453.4 L629.0,453.4 L629.7,453.4 L630.4,453.4 L631.0,453.4 L631.7,453.4 L632.4,453.4 L633.0,453.4 L633.7,453.5 L634.4,453.5 L635.0,453.5 L635.7,453.5 L636.4,453.5 L637.0,453.5 L637.7,453.5 L638.4,453.5 L639.0,453.5 L639.7,453.6 L640.4,453.6 L641.0,453.6 L641.7,453.6 L642.4,453.6 L643.1,453.6 L643.7,453.6 L644.4,453.6 L645.1,453.6 L645.7,453.6 L646.4,453.6 L647.1,453.7 L647.7,453.7 L648.4,453.7 L649.1,453.7 L649.7,453.7 L650.4,453.7 L651.1,453.7 L651.7,453.7 L652.4,453.7 L653.1,453.7 L653.7,453.7 L654.4,453.7 L655.1,453.7 L655.7,453.8 L656.4,453.8 L657.1,453.8 L657.7,453.8 L658.4,453.8 L659.1,453.8 L659.7,453.8 L660.4,453.8 L661.1,453.8 L661.8,453.8 L662.4,453.8 L663.1,453.8 L663.8,453.8 L664.4,453.8 L665.1,453.8 L665.8,453.9 L666.4,453.9 L667.1,453.9 L667.8,453.9 L668.4,453.9 L669.1,453.9 L669.8,453.9 L670.4,453.9 L671.1,453.9 L671.8,453.9 L672.4,453.9 L673.1,453.9 L673.8,453.9 L674.4,453.9 L675.1,453.9 L675.8,453.9 L676.4,453.9 L677.1,453.9 L677.8,453.9 L678.4,453.9 L679.1,454.0 L679.8,454.0 L680.5,454.0 L681.1,454.0 L681.8,454.0 L682.5,454.0 L683.1,454.0 L683.8,454.0 L684.5,454.0 L685.1,454.0 L685.8,454.0 L686.5,454.0 L687.1,454.0 L687.8,454.0 L688.5,454.0 L689.1,454.0 L689.8,454.0 L690.5,454.0 L691.1,454.0 L691.8,454.0 L692.5,454.0 L693.1,454.0 L693.8,454.0 L694.5,454.0 L695.1,454.0 L695.8,454.0 L696.5,454.0 L697.1,454.0 L697.8,454.1 L698.5,454.1 L699.2,454.1 L699.8,454.1 L700.5,454.1 L701.2,454.1 L701.8,454.1 L702.5,454.1 L703.2,454.1 L703.8,454.1 L704.5,454.1 L705.2,454.1 L705.8,454.1 L706.5,454.1 L707.2,454.1 L707.8,454.1 L708.5,454.1" stroke="#006400" stroke-dasharray="8.8 4.8 2.3 4.8"/>
<path d="M198.5,454.3 L199.2,454.2 L199.8,454.2 L200.5,454.1 L201.2,454.0 L201.8,453.9 L202.5,453.8 L203.1,453.8 L203.8,453.7 L204.5,453.6 L205.1,453.5 L205.8,453.4 L206.5,453.3 L207.1,453.3 L207.8,453.2 L208.4,453.1 L209.1,453.0 L209.8,452.9 L210.4,452.8 L211.1,452.7 L211.8,452.6 L212.4,452.5 L213.1,452.5 L213.7,452.4 L214.4,452.3 L215.1,452.2 L215.7,452.1 L216.4,452.0 L217.0,451.9 L217.7,451.8 L218.4,451.7 L219.0,451.6 L219.7,451.5 L220.4,451.4 L221.0,451.3 L221.7,451.2 L222.3,451.1 L223.0,451.0 L223.7,450.9 L224.3,450.8 L225.0,450.7 L225.6,450.6 L226.3,450.5 L227.0,450.4 L227.6,450.3 L228.3,450.2 L228.9,450.1 L229.6,450.0 L230.3,449.9 L230.9,449.8 L231.6,449.7 L232.2,449.6 L232.9,449.5 L233.6,449.4 L234.2,449.3 L234.9,449.2 L235.5,449.1 L236.2,449.0 L236.9,448.9 L237.5,448.8 L238.2,448.7 L238.9,448.6 L239.5,448.5 L240.2,448.4 L240.8,448.3 L241.5,448.2 L242.2,448.1 L242.8,448.0 L243.5,447.9 L244.1,447.8 L244.8,447.7 L245.5,447.6 L246.1,447.5 L246.8,447.4 L247.4,447.3 L248.1,447.2 L248.8,447.2 L249.4,447.1 L250.1,447.0 L250.8,446.9 L251.4,446.8 L252.1,446.7 L252.7,446.6 L253.4,446.5 L254.1,446.4 L254.7,446.3 L255.4,446.2 L256.1,446.2 L256.7,446.1 L257.4,446.0 L258.0,445.9 L258.7,445.8 L259.4,445.7 L260.0,445.6 L260.7,445.6 L261.4,445.5 L262.0,445.4 L262.7,445.3 L263.3,445.2 L264.0,445.2 L264.7,445.1 L265.3,445.0 L266.0,444.9 L266.7,444.8 L267.3,444.8 L268.0,444.7 L268.7,444.6 L269.3,444.5 L270.0,444.5 L270.6,444.4 L271.3,444.3 L272.0,444.2 L272.6,444.2 L273.3,444.1 L274.0,444.0 L274.6,443.9 L275.3,443.9 L276.0,443.8 L276.6,443.7 L277.3,443.6 L277.9,443.5 L278.6,443.5 L279.3,443.4 L279.9,443.3 L280.6,443.2 L281.3,443.1 L281.9,443.1 L282.6,443.0 L283.2,442.9 L283.9,442.8 L284.6,442.7 L285.2,442.6 L285.9,442.5 L286.6,442.4 L287.2,442.3 L287.9,442.2 L288.5,442.1 L289.2,442.0 L289.9,441.9 L290.5,441.8 L291.2,441.7 L291.8,441.6 L292.5,441.5 L293.2,441.4 L293.8,441.3 L294.5,441.1 L295.1,441.0 L295.8,440.9 L296.4,440.8 L297.1,440.6 L297.8,440.5 L298.4,440.4 L299.1,440.2 L299.7,440.1 L300.4,439.9 L301.0,439.8 L301.7,439.6 L302.3,439.5 L303.0,439.3 L303.6,439.2 L304.3,439.0 L304.9,438.8 L305.6,438.6 L306.2,438.5 L306.9,438.3 L307.5,438.1 L308.2,437.9 L308.8,437.7 L309.4,437.5 L310.1,437.3 L310.7,437.1 L311.3,436.9 L312.0,436.7 L312.6,436.5 L313.2,436.3 L313.9,436.0 L314.5,435.8 L315.1,435.6 L315.7,435.3 L316.4,435.1 L317.0,434.8 L317.6,434.6 L318.2,434.3 L318.8,434.0 L319.4,433.8 L320.0,433.5 L320.6,433.2 L321.2,432.9 L321.8,432.6 L322.4,432.3 L323.0,432.0 L323.6,431.7 L324.2,431.4 L324.8,431.1 L325.4,430.8 L326.0,430.4 L326.5,430.1 L327.1,429.8 L327.7,429.4 L328.3,429.1 L328.8,428.7 L329.4,428.3 L329.9,428.0 L330.5,427.6 L331.0,427.2 L331.6,426.8 L332.1,426.4 L332.7,426.0 L333.2,425.6 L333.7,425.2 L334.3,424.8 L334.8,424.4 L335.3,424.0 L335.8,423.5 L336.4,423.1 L336.9,422.7 L337.4,422.2 L337.9,421.8 L338.4,421.3 L338.9,420.9 L339.4,420.4 L339.8,419.9 L340.3,419.5 L340.8,419.0 L341.3,418.5 L341.7,418.0 L342.2,417.6 L342.6,417.1 L343.1,416.6 L343.5,416.1 L344.0,415.6 L344.4,415.1 L344.9,414.5 L345.3,414.0 L345.7,413.5 L346.1,413.0 L346.5,412.5 L346.9,411.9 L347.3,411.4 L347.7,410.8 L348.1,410.3 L348.5,409.8 L348.9,409.2 L349.2,408.7 L349.6,408.1 L350.0,407.5 L350.3,407.0 L350.7,406.4 L351.0,405.8 L351.4,405.3 L351.7,404.7 L352.1,404.1 L352.4,403.6 L352.8,403.0 L353.1,402.4 L353.4,401.8 L353.8,401.2 L354.1,400.7 L354.4,400.1 L354.7,399.5 L355.1,398.9 L355.4,398.3 L355.7,397.8 L356.1,397.2 L356.4,396.6 L356.7,396.0 L357.1,395.4 L357.4,394.9 L357.8,394.3 L358.1,393.7 L358.4,393.1 L358.8,392.6 L359.1,392.0 L359.5,391.4 L359.8,390.8 L360.1,390.2 L360.5,389.7 L360.8,389.1 L361.1,388.5 L361.5,387.9 L361.8,387.3 L362.1,386.8 L362.4,386.2 L362.7,385.6 L363.0,385.0 L363.3,384.4 L363.6,383.8 L363.9,383.2 L364.2,382.6 L364.5,382.0 L364.7,381.4 L365.0,380.8 L365.3,380.1 L365.5,379.5 L365.8,378.9 L366.0,378.3 L366.2,377.7 L366.5,377.0 L366.7,376.4 L366.9,375.8 L367.2,375.1 L367.4,374.5 L367.6,373.9 L367.8,373.3 L368.1,372.6 L368.3,372.0 L368.5,371.4 L368.7,370.7 L368.9,370.1 L369.2,369.5 L369.4,368.8 L369.6,368.2 L369.9,367.6 L370.1,367.0 L370.3,366.3 L370.6,365.7 L370.8,365.1 L371.0,364.5 L371.3,363.8 L371.5,363.2 L371.8,362.6 L372.0,362.0 L372.3,361.3 L372.5,360.7 L372.8,360.1 L373.0,359.5 L373.3,358.9 L373.5,358.3 L373.8,357.6 L374.0,357.0 L374.3,356.4 L374.5,355.8 L374.8,355.2 L375.0,354.5 L375.3,353.9 L375.5,353.3 L375.8,352.7 L376.0,352.1 L376.3,351.5 L376.5,350.8 L376.8,350.2 L377.0,349.6 L377.3,349.0 L377.5,348.3 L377.7,347.7 L378.0,347.1 L378.2,346.5 L378.5,345.8 L378.7,345.2 L378.9,344.6 L379.1,344.0 L379.4,343.3 L379.6,342.7 L379.8,342.1 L380.0,341.4 L380.2,340.8 L380.4,340.2 L380.7,339.5 L380.9,338.9 L381.1,338.2 L381.3,337.6 L381.5,336.9 L381.7,336.3 L381.9,335.7 L382.1,335.0 L382.3,334.4 L382.5,333.8 L382.8,333.2 L383.0,332.5 L383.3,331.9 L383.6,331.3 L383.8,330.7 L384.1,330.1 L384.5,329.5 L384.8,329.0 L385.1,328.4 L385.5,327.9 L385.9,327.3 L386.3,326.8 L386.7,326.3 L387.2,325.7 L387.6,325.3 L388.2,324.8 L388.7,324.3 L389.2,323.9 L389.8,323.5 L390.4,323.2 L391.0,322.9 L391.6,322.7 L392.3,322.6 L392.9,322.6 L393.5,322.8 L394.1,323.0 L394.7,323.3 L395.2,323.7 L395.7,324.2 L396.2,324.7 L396.6,325.2 L397.0,325.8 L397.4,326.3 L397.7,326.9 L398.1,327.5 L398.4,328.1 L398.8,328.7 L399.1,329.3 L399.4,329.9 L399.8,330.4 L400.1,331.0 L400.4,331.6 L400.8,332.2 L401.1,332.7 L401.4,333.3 L401.7,333.9 L402.1,334.5 L402.4,335.1 L402.7,335.6 L403.0,336.2 L403.3,336.8 L403.6,337.4 L403.9,338.1 L404.1,338.7 L404.4,339.3 L404.7,339.9 L404.9,340.5 L405.2,341.1 L405.4,341.7 L405.7,342.4 L405.9,343.0 L406.2,343.6 L406.4,344.3 L406.6,344.9 L406.8,345.5 L407.0,346.2 L407.2,346.8 L407.4,347.4 L407.6,348.1 L407.8,348.7 L408.0,349.4 L408.2,350.0 L408.3,350.6 L408.5,351.3 L408.7,351.9 L408.9,352.6 L409.1,353.2 L409.3,353.8 L409.5,354.5 L409.7,355.1 L409.9,355.7 L410.1,356.4 L410.3,357.0 L410.6,357.6 L410.8,358.3 L411.0,358.9 L411.3,359.5 L412.0,359.4 L412.6,359.2 L413.3,359.1 L413.9,359.0 L414.6,359.1 L415.1,359.3 L415.6,359.6 L416.1,360.1 L416.6,360.6 L417.1,361.1 L417.6,361.6 L418.1,362.1 L418.6,362.5 L419.1,363.0 L419.6,363.5 L420.1,364.0 L420.6,364.4 L421.1,364.9 L421.6,365.3 L422.0,365.8 L422.5,366.2 L423.0,366.7 L423.5,367.2 L424.0,367.6 L424.5,368.1 L424.9,368.5 L425.4,369.0 L425.9,369.5 L426.3,370.0 L426.7,370.5 L427.2,371.0 L427.6,371.5 L428.0,372.0 L428.5,372.5 L428.9,373.0 L429.3,373.5 L429.7,374.1 L430.1,374.6 L430.5,375.2 L430.9,375.7 L431.3,376.2 L431.6,376.8 L432.0,377.4 L432.4,377.9 L432.8,378.5 L433.1,379.0 L433.5,379.6 L433.9,380.2 L434.2,380.7 L434.6,381.3 L435.0,381.9 L435.3,382.4 L435.7,383.0 L436.1,383.6 L436.4,384.1 L436.8,384.7 L437.2,385.3 L437.5,385.8 L437.9,386.4 L438.3,386.9 L438.7,387.5 L439.1,388.1 L439.4,388.6 L439.8,389.2 L440.2,389.7 L440.6,390.2 L441.0,390.8 L441.4,391.3 L441.8,391.8 L442.2,392.4 L442.7,392.9 L443.1,393.4 L443.5,393.9 L443.9,394.4 L444.3,394.9 L444.8,395.4 L445.2,396.0 L445.6,396.5 L446.0,397.0 L446.4,397.5 L446.8,398.1 L447.2,398.6 L447.6,399.1 L448.0,399.7 L448.4,400.2 L448.8,400.8 L449.2,401.3 L449.6,401.9 L450.0,402.5 L450.4,403.0 L450.7,403.6 L451.1,404.1 L451.5,404.7 L451.9,405.2 L452.4,405.7 L452.8,406.3 L453.2,406.8 L453.6,407.3 L454.0,407.8 L454.5,408.3 L454.9,408.8 L455.4,409.4 L455.8,409.9 L456.2,410.3 L456.7,410.8 L457.2,411.3 L457.6,411.8 L458.1,412.3 L458.5,412.8 L459.0,413.2 L459.5,413.7 L460.0,414.2 L460.5,414.6 L460.9,415.1 L461.4,415.6 L461.9,416.0 L462.4,416.5 L462.9,416.9 L463.4,417.4 L463.9,417.8 L464.4,418.2 L464.9,418.7 L465.4,419.1 L466.0,419.5 L466.5,420.0 L467.0,420.4 L467.5,420.8 L468.0,421.2 L468.6,421.6 L469.1,422.0 L469.6,422.5 L470.2,422.9 L470.7,423.3 L471.2,423.7 L471.8,424.1 L472.3,424.5 L472.9,424.9 L473.4,425.3 L474.0,425.6 L474.5,426.0 L475.1,426.4 L475.6,426.8 L476.2,427.2 L476.7,427.6 L477.3,427.9 L477.9,428.3 L478.4,428.7 L479.0,429.0 L479.6,429.4 L480.1,429.7 L480.7,430.1 L481.3,430.4 L481.9,430.8 L482.5,431.1 L483.0,431.4 L483.6,431.7 L484.2,432.0 L484.8,432.3 L485.4,432.6 L486.0,432.9 L486.6,433.2 L487.2,433.5 L487.9,433.7 L488.5,434.0 L489.1,434.2 L489.7,434.5 L490.3,434.7 L491.0,435.0 L491.6,435.2 L492.2,435.5 L492.8,435.7 L493.5,435.9 L494.1,436.2 L494.7,436.4 L495.4,436.6 L496.0,436.9 L496.6,437.1 L497.2,437.4 L497.9,437.6 L498.5,437.9 L499.1,438.1 L499.7,438.3 L500.4,438.6 L501.0,438.8 L501.6,439.0 L502.3,439.3 L502.9,439.5 L503.5,439.7 L504.2,439.8 L504.8,440.0 L505.5,440.2 L506.2,440.3 L506.8,440.4 L507.5,440.5 L508.1,440.6 L508.8,440.6 L509.5,440.6 L510.2,440.5 L510.8,440.5 L511.5,440.4 L512.2,440.3 L512.8,440.2 L513.5,440.2 L514.2,440.1 L514.8,440.1 L515.5,440.1 L516.2,440.1 L516.8,440.2 L517.5,440.3 L518.1,440.6 L518.7,440.9 L519.3,441.3 L519.8,441.6 L520.4,442.0 L520.9,442.4 L521.4,442.8 L522.0,443.1 L522.6,443.5 L523.2,443.7 L523.8,444.0 L524.4,444.2 L525.0,444.5 L525.7,444.7 L526.3,444.8 L527.0,445.0 L527.6,445.2 L528.2,445.4 L528.9,445.6 L529.5,445.7 L530.2,445.9 L530.8,446.0 L531.5,446.2 L532.2,446.3 L532.8,446.5 L533.5,446.6 L534.1,446.7 L534.8,446.9 L535.5,447.0 L536.1,447.1 L536.8,447.2 L537.4,447.3 L538.1,447.4 L538.8,447.5 L539.4,447.7 L540.1,447.8 L540.8,447.9 L541.4,447.9 L542.1,448.0 L542.7,448.1 L543.4,448.2 L544.1,448.3 L544.7,448.4 L545.4,448.5 L546.1,448.5 L546.7,448.6 L547.4,448.7 L548.1,448.8 L548.7,448.8 L549.4,448.9 L550.1,449.0 L550.7,449.0 L551.4,449.1 L552.1,449.2 L552.7,449.2 L553.4,449.3 L554.1,449.3 L554.7,449.4 L555.4,449.4 L556.0,449.5 L556.7,449.6 L557.4,449.6 L558.0,449.7 L558.7,449.7 L559.4,449.8 L560.0,449.8 L560.7,449.9 L561.4,449.9 L562.1,449.9 L562.7,450.0 L563.4,450.0 L564.1,450.1 L564.7,450.1 L565.4,450.2 L566.1,450.2 L566.7,450.3 L567.4,450.3 L568.1,450.3 L568.7,450.4 L569.4,450.4 L570.1,450.5 L570.7,450.5 L571.4,450.5 L572.1,450.6 L572.7,450.6 L573.4,450.6 L574.1,450.7 L574.7,450.7 L575.4,450.7 L576.1,450.8 L576.7,450.8 L577.4,450.9 L578.1,450.9 L578.7,450.9 L579.4,451.0 L580.1,451.0 L580.7,451.0 L581.4,451.0 L582.1,451.1 L582.8,451.1 L583.4,451.1 L584.1,451.2 L584.8,451.2 L585.4,451.2 L586.1,451.3 L586.8,451.3 L587.4,451.3 L588.1,451.3 L588.8,451.4 L589.4,451.4 L590.1,451.4 L590.8,451.5 L591.4,451.5 L592.1,451.5 L592.8,451.5 L593.5,451.6 L594.1,451.6 L594.8,451.6 L595.5,451.6 L596.1,451.7 L596.8,451.7 L597.5,451.7 L598.1,451.7 L598.8,451.8 L599.5,451.8 L600.1,451.8 L600.8,451.8 L601.5,451.9 L602.1,451.9 L602.8,451.9 L603.5,451.9 L604.2,451.9 L604.8,452.0 L605.5,452.0 L606.2,452.0 L606.8,452.0 L607.5,452.1 L608.2,452.1 L608.8,452.1 L609.5,452.1 L610.2,452.1 L610.8,452.2 L611.5,452.2 L612.2,452.2 L612.8,452.2 L613.5,452.3 L614.2,452.3 L614.9,452.3 L615.5,452.3 L616.2,452.3 L616.9,452.4 L617.5,452.4 L618.2,452.4 L618.9,452.4 L619.5,452.4 L620.2,452.5 L620.9,452.5 L621.5,452.5 L622.2,452.5 L622.9,452.5 L623.5,452.6 L624.2,452.6 L624.9,452.6 L625.6,452.6 L626.2,452.6 L626.9,452.7 L627.6,452.7 L628.2,452.7 L628.9,452.7 L629.6,452.7 L630.2,452.7 L630.9,452.8 L631.6,452.8 L632.2,452.8 L632.9,452.8 L633.6,452.8 L634.2,452.9 L634.9,452.9 L635.6,452.9 L636.3,452.9 L636.9,452.9 L637.6,452.9 L638.3,453.0 L638.9,453.0 L639.6,453.0 L640.3,453.0 L640.9,453.0 L641.6,453.0 L642.3,453.1 L642.9,453.1 L643.6,453.1 L644.3,453.1 L644.9,453.1 L645.6,453.1 L646.3,453.1 L647.0,453.2 L647.6,453.2 L648.3,453.2 L649.0,453.2 L649.6,453.2 L650.3,453.2 L651.0,453.3 L651.6,453.3 L652.3,453.3 L653.0,453.3 L653.6,453.3 L654.3,453.3 L655.0,453.3 L655.6,453.3 L656.3,453.4 L657.0,453.4 L657.7,453.4 L658.3,453.4 L659.0,453.4 L659.7,453.4 L660.3,453.4 L661.0,453.5 L661.7,453.5 L662.3,453.5 L663.0,453.5 L663.7,453.5 L664.3,453.5 L665.0,453.5 L665.7,453.5 L666.3,453.6 L667.0,453.6 L667.7,453.6 L668.4,453.6 L669.0,453.6 L669.7,453.6 L670.4,453.6 L671.0,453.6 L671.7,453.6 L672.4,453.7 L673.0,453.7 L673.7,453.7 L674.4,453.7 L675.0,453.7 L675.7,453.7 L676.4,453.7 L677.1,453.7 L677.7,453.7 L678.4,453.7 L679.1,453.8 L679.7,453.8 L680.4,453.8 L681.1,453.8 L681.7,453.8 L682.4,453.8 L683.1,453.8 L683.7,453.8 L684.4,453.8 L685.1,453.8 L685.7,453.9 L686.4,453.9 L687.1,453.9 L687.8,453.9 L688.4,453.9 L689.1,453.9 L689.8,453.9 L690.4,453.9 L691.1,453.9 L691.8,453.9 L692.4,453.9 L693.1,453.9 L693.8,454.0 L694.4,454.0 L695.1,454.0 L695.8,454.0 L696.5,454.0 L697.1,454.0 L697.8,454.0 L698.5,454.0 L699.1,454.0 L699.8,454.0 L700.5,454.0 L701.1,454.0 L701.8,454.0 L702.5,454.0 L703.1,454.1 L703.8,454.1 L704.5,454.1 L705.2,454.1 L705.8,454.1 L706.5,454.1 L707.2,454.1 L707.8,454.1 L708.5,454.1" stroke="#0000ff" stroke-dasharray="10.6 5"/>
</g>
<!-- frame (in front) -->
<rect x="102.9" y="27.15" width="605.50" height="427.30" fill="none" stroke="#000" stroke-width="1.6"/>
<!-- legend -->
<g fill="none" stroke-width="4">
<path d="M619.3,50.8 H681.2" stroke="#ff0000"/>
<path d="M619.4,85.1 H681.2" stroke="#006400" stroke-dasharray="8.8 4.8 2.3 4.8"/>
<path d="M619.4,119.5 H681.2" stroke="#0000ff" stroke-dasharray="10.6 5"/>
</g>
<text transform="matrix(0.26264,0.000480,0,0.24000,550.10,56.80)" font-size="100" stroke="#fff" stroke-width="0.83">exact</text>
<text transform="matrix(0.25682,0.000504,0,0.25200,504.60,90.90)" font-size="100" stroke="#fff" stroke-width="0.79">TI-SNCA</text>
<text transform="matrix(0.26006,0.000504,0,0.25200,502.00,124.80)" font-size="100" stroke="#fff" stroke-width="0.79">TI-ENCA</text>
<!-- tick labels -->
<g>
<text transform="matrix(0.23324,0.000476,0,0.23800,77.34,460.85)" font-size="100" stroke="#fff" stroke-width="0.84">0</text>
<text transform="matrix(0.23324,0.000476,0,0.23800,77.34,375.39)" font-size="100" stroke="#fff" stroke-width="0.84">2</text>
<text transform="matrix(0.23324,0.000476,0,0.23800,77.34,289.93)" font-size="100" stroke="#fff" stroke-width="0.84">4</text>
<text transform="matrix(0.23324,0.000476,0,0.23800,77.34,204.47)" font-size="100" stroke="#fff" stroke-width="0.84">6</text>
<text transform="matrix(0.23324,0.000476,0,0.23800,77.34,119.01)" font-size="100" stroke="#fff" stroke-width="0.84">8</text>
<text transform="matrix(0.23324,0.000476,0,0.23800,65.68,33.55)" font-size="100" stroke="#fff" stroke-width="0.84">10</text>
<text transform="matrix(0.23324,0.000476,0,0.23800,187.99,483.80)" font-size="100" stroke="#fff" stroke-width="0.84">-1</text>
<text transform="matrix(0.23324,0.000476,0,0.23800,338.94,483.80)" font-size="100" stroke="#fff" stroke-width="0.84">-0.5</text>
<text transform="matrix(0.23324,0.000476,0,0.23800,514.87,483.80)" font-size="100" stroke="#fff" stroke-width="0.84">0</text>
<text transform="matrix(0.23324,0.000476,0,0.23800,665.82,483.80)" font-size="100" stroke="#fff" stroke-width="0.84">0.5</text>
</g>
<!-- (b) -->
<g>
<path d="M21.52,33.48 A19.30,19.30 0 0 0 21.52,62.27 A22.05,22.05 0 0 1 21.52,33.48 Z" fill="#000" stroke="#000" stroke-width="0.95" stroke-linejoin="round"><title>(</title></path>
<text transform="matrix(0.31175,0.000623,0,0.30414,24.30,55.80)" font-size="100" stroke="#fff" stroke-width="0.97">b</text>
<path d="M41.18,33.48 A18.74,18.74 0 0 1 41.18,62.27 A21.18,21.18 0 0 0 41.18,33.48 Z" fill="#000" stroke="#000" stroke-width="0.95" stroke-linejoin="round"><title>)</title></path>
</g>
<!-- x label -->
<g>
<g fill="none" stroke="#000" stroke-linecap="round" stroke-linejoin="round"><title>ω</title><path d="M380.07,506.07 C378.35,508.08 377.14,510.49 377.14,512.77 C377.14,516.12 378.00,518.00 379.90,518.00 C382.13,518.00 384.88,514.78 385.74,510.36 C384.71,512.77 384.37,513.71 384.45,515.05 C384.54,517.19 385.40,518.20 386.78,518.20 C389.18,518.20 391.25,515.85 392.45,512.77 C393.31,510.76 393.57,508.62 392.80,506.74" stroke-width="0.8"/><path d="M377.14,512.77 C377.14,516.12 378.00,518.00 379.90,518.00 C381.10,518.00 382.48,517.06 383.68,515.32" stroke-width="1.45"/><path d="M384.45,515.05 C384.54,517.19 385.40,518.20 386.78,518.20 C389.18,518.20 391.25,515.85 392.45,512.77 C393.31,510.76 393.57,508.62 392.80,506.74" stroke-width="1.45"/></g><ellipse cx="392.54" cy="507.14" rx="1.29" ry="1.74" fill="#000"/>
<text transform="matrix(0.38512,0.000770,0,0.43800,397.70,524.57)" font-size="100" stroke="#fff" stroke-width="0.73">/</text>
<text transform="matrix(0.30490,0.000610,0,0.29844,411.94,517.64)" font-size="100" font-style="italic" stroke="#fff" stroke-width="0.99">D</text>
</g>
<!-- y label -->
<g transform="rotate(-90)">
<text transform="matrix(0.29257,0.000585,0,0.28734,-291.06,33.08)" font-size="100" font-style="italic" stroke="#fff" stroke-width="1.03">ρ</text>
<text transform="matrix(0.27499,0.000550,0,0.20829,-277.11,18.47)" font-size="100" font-style="italic" stroke="#fff" stroke-width="1.24">f</text>
<text transform="matrix(0.25788,0.000516,0,0.30118,-277.08,42.75)" font-size="100" stroke="#fff" stroke-width="1.07">−</text>
<path d="M-251.35,10.75 A20.88,20.88 0 0 0 -251.35,40.45 A22.80,22.80 0 0 1 -251.35,10.75 Z" fill="#000" stroke="#000" stroke-width="0.9" stroke-linejoin="round"><title>(</title></path>
<g fill="none" stroke="#000" stroke-linecap="round" stroke-linejoin="round"><title>ω</title><path d="M-245.03,20.50 C-246.70,22.62 -247.87,25.16 -247.87,27.55 C-247.87,31.08 -247.03,33.05 -245.19,33.05 C-243.02,33.05 -240.35,29.67 -239.52,25.02 C-240.52,27.55 -240.85,28.54 -240.77,29.95 C-240.69,32.21 -239.85,33.27 -238.51,33.27 C-236.18,33.27 -234.17,30.80 -233.00,27.55 C-232.17,25.44 -231.92,23.18 -232.67,21.21" stroke-width="0.8"/><path d="M-247.87,27.55 C-247.87,31.08 -247.03,33.05 -245.19,33.05 C-244.02,33.05 -242.69,32.07 -241.52,30.23" stroke-width="1.45"/><path d="M-240.77,29.95 C-240.69,32.21 -239.85,33.27 -238.51,33.27 C-236.18,33.27 -234.17,30.80 -233.00,27.55 C-232.17,25.44 -231.92,23.18 -232.67,21.21" stroke-width="1.45"/></g><ellipse cx="-232.92" cy="21.63" rx="1.25" ry="1.83" fill="#000"/>
<path d="M-227.95,10.75 A20.65,20.65 0 0 1 -227.95,40.45 A22.49,22.49 0 0 0 -227.95,10.75 Z" fill="#000" stroke="#000" stroke-width="0.9" stroke-linejoin="round"><title>)</title></path>
<text transform="matrix(0.31326,0.000627,0,0.31367,-212.15,32.94)" font-size="100" font-style="italic" stroke="#fff" stroke-width="0.96">D</text>
</g>
</svg>
</body></html>
